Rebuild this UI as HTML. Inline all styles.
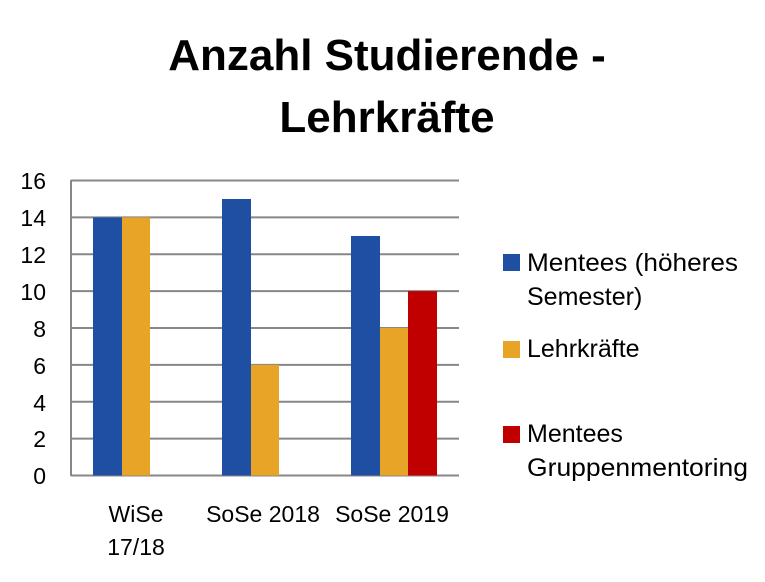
<!DOCTYPE html>
<html><head><meta charset="utf-8"><style>
html,body{margin:0;padding:0;background:#fff;}
</style></head><body>
<svg width="765" height="577" xmlns="http://www.w3.org/2000/svg" font-family="'Liberation Sans', 'DejaVu Sans', sans-serif">
<rect width="765" height="577" fill="#fff"/>
<text x="387" y="70" text-anchor="middle" font-size="44" font-weight="bold" fill="#000">Anzahl Studierende -</text>
<text x="387" y="132" text-anchor="middle" font-size="44" font-weight="bold" fill="#000">Lehrkräfte</text>
<g stroke="#878787" stroke-width="2">
<line x1="71" y1="180.5" x2="459" y2="180.5"/>
<line x1="71" y1="217.4" x2="459" y2="217.4"/>
<line x1="71" y1="254.3" x2="459" y2="254.3"/>
<line x1="71" y1="291.1" x2="459" y2="291.1"/>
<line x1="71" y1="328" x2="459" y2="328"/>
<line x1="71" y1="364.9" x2="459" y2="364.9"/>
<line x1="71" y1="401.8" x2="459" y2="401.8"/>
<line x1="71" y1="438.6" x2="459" y2="438.6"/>
<line x1="71" y1="475.5" x2="459" y2="475.5"/>
<line x1="71" y1="180" x2="71" y2="476"/>
</g>
<g fill="#1F4FA3">
<rect x="93" y="217.4" width="29" height="258.1"/>
<rect x="222" y="199" width="29" height="276.5"/>
<rect x="351" y="236" width="29" height="239.5"/>
</g>
<g fill="#E8A427">
<rect x="122" y="217.4" width="28" height="258.1"/>
<rect x="251" y="364.9" width="28" height="110.6"/>
<rect x="380" y="328" width="28" height="147.5"/>
</g>
<rect x="408" y="291.1" width="29" height="184.4" fill="#C00000"/>
<g font-size="23" fill="#000" text-anchor="end">
<text x="46" y="189">16</text>
<text x="46" y="226">14</text>
<text x="46" y="263">12</text>
<text x="46" y="300">10</text>
<text x="46" y="337">8</text>
<text x="46" y="374">6</text>
<text x="46" y="411">4</text>
<text x="46" y="447">2</text>
<text x="46" y="484">0</text>
</g>
<g font-size="23" fill="#000" text-anchor="middle">
<text x="136" y="522">WiSe</text>
<text x="136" y="555">17/18</text>
<text x="263" y="522">SoSe 2018</text>
<text x="392" y="522">SoSe 2019</text>
</g>
<rect x="503" y="254" width="17" height="17" fill="#1F4FA3"/>
<rect x="503" y="341" width="17" height="17" fill="#E8A427"/>
<rect x="503" y="426" width="17" height="17" fill="#C00000"/>
<g font-size="25" fill="#000">
<text x="527" y="271" textLength="211" lengthAdjust="spacingAndGlyphs">Mentees (höheres</text>
<text x="527" y="305">Semester)</text>
<text x="527" y="357">Lehrkräfte</text>
<text x="527" y="442">Mentees</text>
<text x="527" y="476" textLength="221" lengthAdjust="spacingAndGlyphs">Gruppenmentoring</text>
</g>
</svg>
</body></html>
